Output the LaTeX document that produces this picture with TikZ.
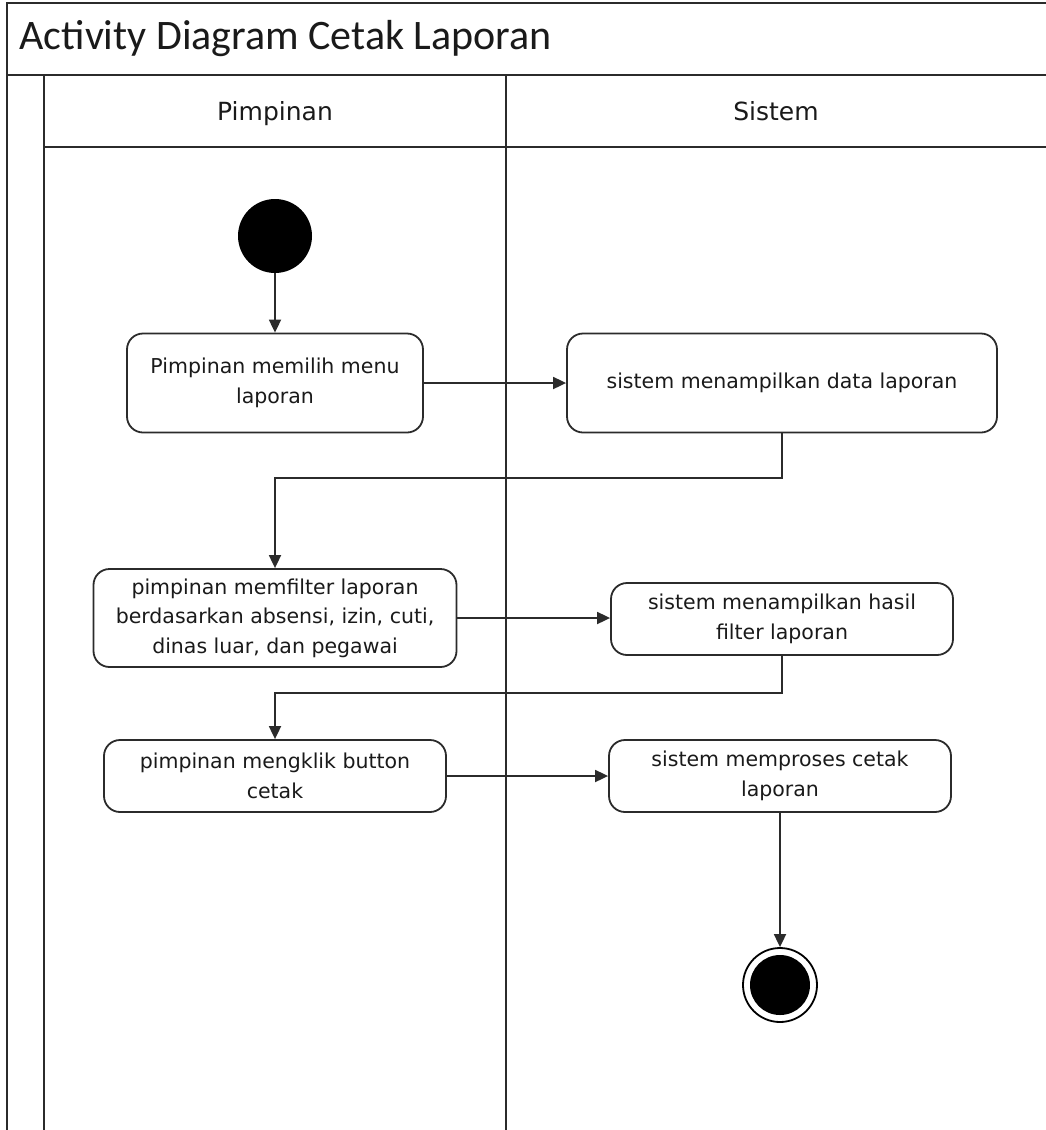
\documentclass[tikz,border=0pt]{standalone}
\usepackage{fontspec}
\setmainfont{DejaVu Sans}
\newfontfamily\titlefont{Carlito}
\usepackage{tikz}
\usetikzlibrary{positioning, arrows.meta, calc}
\definecolor{Ink}{HTML}{1A1A1A}
\definecolor{Edge}{HTML}{2B2B2B}

\begin{document}
\begin{tikzpicture}[x=1pt, y=-1pt,
    lane/.style={draw=Edge, line width=2pt},
    act/.style={draw=Edge, line width=1.8pt, rounded corners=16pt, fill=white,
      align=center, font=\fontsize{20.5}{29.5}\selectfont, text=Ink, inner sep=0pt},
    startnode/.style={circle, fill=black, minimum size=74pt, inner sep=0pt},
    endnode/.style={circle, draw=black, line width=1.8pt, minimum size=74pt, inner sep=0pt,
      path picture={\fill[black] (path picture bounding box.center) circle (30pt);}},
    flow/.style={draw=Edge, line width=1.8pt, -{Triangle[length=13pt, width=12pt]}}]
      \useasboundingbox (0,0) rectangle (1046,1130);
      \clip (0,0) rectangle (1046,1130);
      % ── pool and lanes ───────────────────────────────────────────────────────
      \draw[lane] (7,1140) -- (7,3) -- (1060,3);
      \draw[lane] (7,75) -- (1060,75);
      \draw[lane] (44,75) -- (44,1140);
      \draw[lane] (506,75) -- (506,1140);
      \draw[lane] (44,147) -- (1060,147);
      \node[font=\titlefont\fontsize{42}{42}\selectfont, text=Ink, anchor=west]
        (title) at (16,39) {Activity Diagram Cetak Laporan};
      \foreach \x/\lab in {275/Pimpinan, 776/Sistem} {
        \node[font=\fontsize{25}{25}\selectfont, text=Ink, anchor=base] at (\x,120) {\lab};
      }
      % ── activities ───────────────────────────────────────────────────────────
      \node[startnode] (start) at (275,236) {};
      \node[act, minimum width=296pt, minimum height=99pt] (a1) at (275,383)
        {Pimpinan memilih menu\\laporan};
      \node[act, minimum width=430pt, minimum height=99pt] (a2) at (782,383)
        {sistem menampilkan data laporan};
      \node[act, minimum width=363pt, minimum height=98pt] (a3) at (275,618)
        {pimpinan memfilter laporan\\berdasarkan absensi, izin, cuti,\\dinas luar, dan pegawai};
      \node[act, minimum width=342pt, minimum height=72pt] (a4) at (782,619)
        {sistem menampilkan hasil\\filter laporan};
      \node[act, minimum width=342pt, minimum height=72pt] (a5) at (275,776)
        {pimpinan mengklik button\\cetak};
      \node[act, minimum width=342pt, minimum height=72pt] (a6) at (780,776)
        {sistem memproses cetak\\laporan};
      \node[endnode] (end) at (780,985) {};
      % ── bends of the return flows ────────────────────────────────────────────
      \coordinate (k1) at (0,478);
      \coordinate (k2) at (0,693);
      % ── control flow ─────────────────────────────────────────────────────────
      \draw[flow] (start) -- (a1);
      \draw[flow] (a1) -- (a2);
      \draw[flow] (a2.south) -- (a2.south |- k1) -| (a3.north);
      \draw[flow] (a3.east) -- (a4.west |- a3.east);
      \draw[flow] (a4.south) -- (a4.south |- k2) -| (a5.north);
      \draw[flow] (a5) -- (a6);
      \draw[flow] (a6) -- (end);
    \end{tikzpicture}
\end{document}
